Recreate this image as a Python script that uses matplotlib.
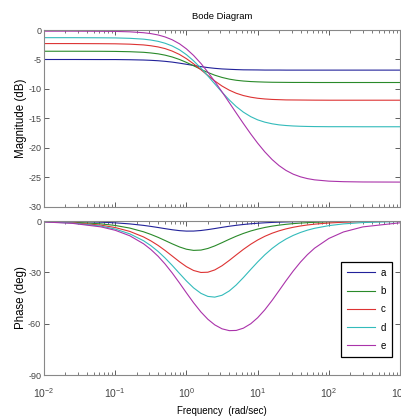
import matplotlib
matplotlib.use('Agg')
import matplotlib.pyplot as plt

plt.rcParams['font.family'] = ['Liberation Sans', 'DejaVu Sans']
plt.rcParams['mathtext.default'] = 'regular'
plt.rcParams['axes.unicode_minus'] = False

# frequencies (rad/sec) read along the x axis
w = [0.01, 0.025, 0.063, 0.1, 0.16, 0.25, 0.316, 0.4, 0.5, 0.63, 0.8, 1, 1.26,
     1.6, 2, 2.5, 3.16, 4, 5, 6.3, 8, 10, 12.6, 16, 20, 25, 31.6, 40, 50, 63,
     100, 160, 300, 1000]

labels = ['a', 'b', 'c', 'd', 'e']
colors = ['#22229a', '#2a8a2a', '#dd3333', '#33bbbb', '#aa33aa']

# magnitude (dB)
mag_a = [-5.00, -5.00, -5.01, -5.01, -5.04, -5.09, -5.14, -5.21, -5.31, -5.44, -5.62,
         -5.81, -6.01, -6.21, -6.37, -6.50, -6.60, -6.66, -6.71, -6.75, -6.76, -6.77,
         -6.79, -6.79, -6.79, -6.80, -6.80, -6.80, -6.80, -6.80, -6.80, -6.80, -6.80, -6.80]
mag_b = [-3.60, -3.60, -3.61, -3.63, -3.68, -3.78, -3.89, -4.04, -4.26, -4.57, -5.00,
         -5.49, -6.06, -6.67, -7.20, -7.66, -8.04, -8.33, -8.52, -8.65, -8.74, -8.79,
         -8.83, -8.86, -8.87, -8.88, -8.89, -8.89, -8.89, -8.90, -8.90, -8.90, -8.90, -8.90]
mag_c = [-2.30, -2.30, -2.32, -2.34, -2.40, -2.53, -2.67, -2.87, -3.15, -3.57, -4.15,
         -4.86, -5.73, -6.74, -7.71, -8.64, -9.50, -10.20, -10.72, -11.11, -11.39, -11.57,
         -11.69, -11.77, -11.81, -11.85, -11.86, -11.87, -11.88, -11.89, -11.90, -11.90,
         -11.90, -11.90]
mag_d = [-1.30, -1.30, -1.32, -1.34, -1.41, -1.55, -1.70, -1.92, -2.24, -2.70, -3.36,
         -4.18, -5.22, -6.48, -7.78, -9.14, -10.54, -11.86, -12.97, -13.92, -14.69, -15.23,
         -15.62, -15.90, -16.08, -16.19, -16.27, -16.32, -16.35, -16.37, -16.39, -16.39,
         -16.40, -16.40]
mag_e = [-0.20, -0.20, -0.22, -0.24, -0.31, -0.46, -0.61, -0.84, -1.17, -1.65, -2.34,
         -3.20, -4.31, -5.68, -7.14, -8.73, -10.49, -12.32, -14.06, -15.84, -17.62, -19.18,
         -20.65, -21.97, -22.99, -23.80, -24.44, -24.89, -25.19, -25.40, -25.62, -25.71,
         -25.76, -25.78]

# phase (deg)
ph_a = [-0.10, -0.27, -0.68, -1.06, -1.68, -2.55, -3.14, -3.79, -4.45, -5.09, -5.62,
        -5.89, -5.87, -5.54, -5.02, -4.40, -3.70, -3.05, -2.51, -2.03, -1.61, -1.30,
        -1.04, -0.82, -0.66, -0.53, -0.42, -0.33, -0.26, -0.21, -0.13, -0.08, -0.04, -0.01]
ph_b = [-0.26, -0.65, -1.65, -2.60, -4.12, -6.30, -7.81, -9.53, -11.37, -13.31, -15.16,
        -16.48, -17.16, -16.98, -16.04, -14.55, -12.65, -10.66, -8.89, -7.26, -5.82, -4.72,
        -3.77, -2.98, -2.40, -1.92, -1.52, -1.20, -0.96, -0.76, -0.48, -0.30, -0.16, -0.05]
ph_c = [-0.38, -0.96, -2.41, -3.81, -6.06, -9.31, -11.58, -14.25, -17.17, -20.43, -23.82,
        -26.68, -28.91, -30.07, -29.92, -28.58, -26.14, -23.01, -19.82, -16.59, -13.56,
        -11.10, -8.94, -7.11, -5.73, -4.60, -3.65, -2.89, -2.31, -1.83, -1.16, -0.72,
        -0.39, -0.11]
ph_d = [-0.47, -1.18, -2.98, -4.70, -7.48, -11.52, -14.37, -17.78, -21.55, -25.89, -30.66,
        -35.03, -39.07, -42.28, -44.06, -44.48, -43.39, -40.86, -37.39, -33.07, -28.29,
        -23.94, -19.76, -15.99, -13.02, -10.53, -8.40, -6.67, -5.34, -4.25, -2.69, -1.68,
        -0.90, -0.27]
ph_e = [-0.54, -1.36, -3.42, -5.41, -8.61, -13.29, -16.60, -20.59, -25.06, -30.31, -36.25,
        -41.99, -47.77, -53.18, -57.42, -60.70, -63.00, -64.07, -63.95, -62.63, -60.04,
        -56.53, -51.91, -46.32, -40.67, -34.94, -29.21, -23.98, -19.66, -15.87, -10.19,
        -6.41, -3.43, -1.03]

mags = [mag_a, mag_b, mag_c, mag_d, mag_e]
phases = [ph_a, ph_b, ph_c, ph_d, ph_e]

mag_ticks = [0, -5, -10, -15, -20, -25, -30]
ph_ticks = [0, -30, -60, -90]

fig = plt.figure(figsize=(4.01, 4.19), dpi=100)
ax1 = fig.add_axes([0.1097, 0.506, 0.888, 0.4224])
ax2 = fig.add_axes([0.1097, 0.105, 0.888, 0.3675])

for m, p, lab, c in zip(mags, phases, labels, colors):
    ax1.plot(w, m, color=c, lw=0.8)
    ax2.plot(w, p, color=c, lw=0.8, label=lab)

for ax in (ax1, ax2):
    ax.set_xscale('log')
    ax.set_xlim(1e-2, 1e3)
    ax.tick_params(which='both', direction='in', top=True, right=True,
                   labelsize=6.5, colors='#444444', pad=2)
    ax.tick_params(which='major', length=3.5, width=0.6)
    ax.tick_params(which='minor', length=2, width=0.5)
    for s in ax.spines.values():
        s.set_color('#888888')
        s.set_linewidth(0.8)

ax1.set_ylim(-30, 0)
ax1.set_yticks(mag_ticks)
ax1.tick_params(axis='x', labelbottom=False)
ax2.set_ylim(-90, 0)
ax2.set_yticks(ph_ticks)
ax2.tick_params(axis='x', labelsize=7.5, pad=8)

ax1.set_ylabel('Magnitude (dB)', fontsize=8.3)
ax1.yaxis.set_label_coords(-0.048, 0.5)
ax2.set_ylabel('Phase (deg)', fontsize=8.3)
ax2.yaxis.set_label_coords(-0.048, 0.5)
ax2.set_xlabel('Frequency  (rad/sec)', fontsize=7)
ax2.xaxis.set_label_coords(0.5, -0.201)
ax1.text(0.5, 1.076, 'Bode Diagram', transform=ax1.transAxes, ha='center',
         va='center', fontsize=6.8)

leg = ax2.legend(loc='upper left', bbox_to_anchor=(0.834, 0.734), fontsize=7,
                 handlelength=2.9, handletextpad=0.6, labelspacing=0.85,
                 borderpad=0.6, borderaxespad=0, fancybox=False, framealpha=1)
leg.get_frame().set_edgecolor('black')
leg.get_frame().set_linewidth(0.9)

fig.savefig('out.png', dpi=100)
